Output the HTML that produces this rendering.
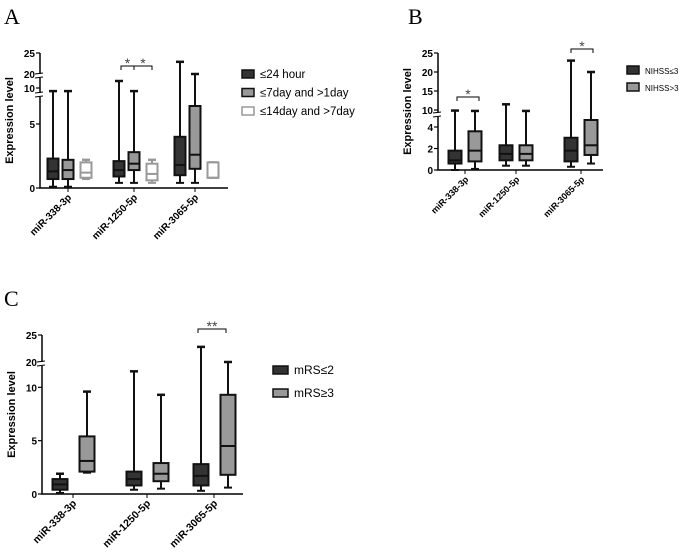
<!DOCTYPE html>
<html><head><meta charset="utf-8">
<style>
body{margin:0;background:#fff;width:685px;height:554px;overflow:hidden}
svg{font-family:"Liberation Sans",sans-serif}
</style></head>
<body>
<svg id="fig" width="685" height="554" viewBox="0 0 685 554" xmlns="http://www.w3.org/2000/svg">
<text x="4" y="24" font-family="Liberation Serif,serif" font-size="22">A</text>
<text x="408" y="24" font-family="Liberation Serif,serif" font-size="22">B</text>
<text x="4" y="306" font-family="Liberation Serif,serif" font-size="22">C</text>
</svg>
<script>
const categories = ["miR-338-3p","miR-1250-5p","miR-3065-5p"];
// each stat: [min, q1, median, q3, max]
const aSeries1 = [[0.1,0.7,1.3,2.3,9],[0.4,0.9,1.4,2.1,15],[0.4,1.0,1.8,4.0,22.9]];
const aSeries2 = [[0.1,0.7,1.4,2.2,9],[0.4,1.4,1.9,2.8,9],[0.4,1.5,2.6,6.4,20]];
const aSeries3 = [[0.7,0.8,1.2,2.0,2.2],[0.4,0.6,1.1,1.9,2.2],[0.8,0.8,0.8,2.0,2.0]];
const aNames = ["≤24 hour","≤7day and >1day","≤14day and >7day"];
const aTicks = [0,5,10,20,25];
const bSeries1 = [[0,0.6,0.9,1.8,9.7],[0.4,0.9,1.5,2.3,11.5],[0.3,0.8,1.8,3.0,23]];
const bSeries2 = [[0.1,0.8,1.8,3.6,9.5],[0.4,0.9,1.5,2.3,9.5],[0.6,1.4,2.3,4.7,20]];
const bNames = ["NIHSS≤3","NIHSS>3"];
const bTicks = [0,2,4,10,15,20,25];
const cSeries1 = [[0.1,0.4,0.9,1.4,1.9],[0.4,0.8,1.4,2.1,11.5],[0.3,0.8,1.7,2.8,22.8]];
const cSeries2 = [[2.0,2.1,3.1,5.4,9.6],[0.5,1.2,1.9,2.9,9.3],[0.6,1.8,4.5,9.3,20]];
const cNames = ["mRS≤2","mRS≥3"];
const cTicks = [0,5,10,20,25];

const NS="http://www.w3.org/2000/svg";
const svg=document.getElementById('fig');
function mk(tag,attrs,parent){const e=document.createElementNS(NS,tag);for(const k in attrs)e.setAttribute(k,attrs[k]);(parent||svg).appendChild(e);return e;}
function scaleFn(dom,rng){return v=>{for(let i=0;i<dom.length-1;i++){if(v<=dom[i+1]||i===dom.length-2){const t=(v-dom[i])/(dom[i+1]-dom[i]);return rng[i]+t*(rng[i+1]-rng[i]);}}};}

function panel(cfg){
  const g=mk('g',{});
  
  
  const y=scaleFn(cfg.dom,cfg.rng);
  const x0=cfg.axisX, y0=y(0);
  const ax=mk('path',{d:`M${x0},${y(cfg.ticks[cfg.ticks.length-1])}V${y0}H${cfg.axisEnd}`,stroke:'#000','stroke-width':1.5,fill:'none'},g);
  
  
  cfg.ticks.forEach(t=>{
    mk('line',{x1:x0-4,x2:x0,y1:y(t),y2:y(t),stroke:'#000','stroke-width':1.2},g);
    const tx=mk('text',{x:x0-5,y:y(t)+4,'text-anchor':'end','font-size':10,'font-weight':'bold'},g);
    tx.textContent=t;
    
    
  });
  cfg.breaks.forEach(b=>{
    mk('rect',{x:x0-5,y:b-2,width:10,height:4,fill:'#fff'},g);
    mk('line',{x1:x0-5,x2:x0+3,y1:b-2,y2:b-3,stroke:'#000'},g);
    mk('line',{x1:x0-5,x2:x0+3,y1:b+2,y2:b+1,stroke:'#000'},g);
  });
  const yl=mk('text',{transform:`translate(${x0-27},${(y0+y(cfg.ticks[cfg.ticks.length-1]))/2}) rotate(-90)`,'text-anchor':'middle','font-size':11,'font-weight':'bold'},g);
  yl.textContent='Expression level';
  
  
  categories.forEach((c,i)=>{
    const cx=cfg.groupX[i];
    mk('line',{x1:cx,x2:cx,y1:y0,y2:y0+4,stroke:'#000'},g);
    const t=mk('text',{transform:`translate(${cx+4},${y0+10}) rotate(-45)`,'text-anchor':'end','font-size':cfg.xFs,'font-weight':'bold'},g);
    t.textContent=c;
    
    
    cfg.series.forEach((s,j)=>{
      const d=s[i], bx=cx+cfg.offs[j], w=cfg.bw, st=cfg.strokes[j], fl=cfg.fills[j];
      const bg=mk('g',{},g);
      
      
      mk('line',{x1:bx,x2:bx,y1:y(d[0]),y2:y(d[4]),stroke:st,'stroke-width':2},bg);
      mk('line',{x1:bx-4,x2:bx+4,y1:y(d[0]),y2:y(d[0]),stroke:st,'stroke-width':2},bg);
      mk('line',{x1:bx-4,x2:bx+4,y1:y(d[4]),y2:y(d[4]),stroke:st,'stroke-width':2.5},bg);
      mk('rect',{x:bx-w/2,y:y(d[3]),width:w,height:y(d[1])-y(d[3]),fill:fl,stroke:st,'stroke-width':2},bg);
      mk('line',{x1:bx-w/2,x2:bx+w/2,y1:y(d[2]),y2:y(d[2]),stroke:st,'stroke-width':2},bg);
    });
  });
  cfg.sig.forEach(s=>{
    const p=mk('path',{d:`M${s[0]},${s[2]+4}V${s[2]}H${s[1]}V${s[2]+4}`,stroke:'#000',fill:'none','stroke-width':1},g);
    
    
    const t=mk('text',{x:(s[0]+s[1])/2,y:s[2]+2,'text-anchor':'middle','font-size':14,fill:'#444'},g);
    t.textContent=s[3];
    
    
  });
  cfg.names.forEach((n,j)=>{
    const ly=cfg.legY+j*cfg.legDy;
    const lg=mk('g',{},g);
    
    
    mk('rect',{x:cfg.legX,y:ly-4,width:cfg.legW,height:8,fill:cfg.fills[j],stroke:cfg.strokes[j],'stroke-width':1.5},lg);
    const t=mk('text',{x:cfg.legX+cfg.legW+6,y:ly+4,'font-size':cfg.legFs},lg);
    t.textContent=n;
  });
}
panel({name:'panel-a-chart',dom:[0,5,7.1,10,20,25],rng:[188,124,97,88,74,53],ticks:aTicks,breaks:[95,76],
  axisX:40,axisEnd:228,groupX:[68,134,195],offs:[-15,0,18],bw:11,series:[aSeries1,aSeries2,aSeries3],
  strokes:['#111','#111','#999'],fills:['#333','#999','#fff'],names:aNames,xFs:10,
  sig:[[121,134,66,'*'],[134,152,66,'*']],legX:242,legY:74,legDy:18.5,legW:12,legFs:11.5});
panel({name:'panel-b-chart',dom:[0,4,4.7,10,25],rng:[170,127,120,110,53],ticks:bTicks,breaks:[115],
  axisX:438,axisEnd:603,groupX:[465,516,581],offs:[-10,10],bw:13,series:[bSeries1,bSeries2],
  strokes:['#111','#111'],fills:['#333','#999'],names:bNames,xFs:9,
  sig:[[457,479,97,'*'],[571,593,49,'*']],legX:627,legY:70,legDy:17,legW:12,legFs:8});
panel({name:'panel-c-chart',dom:[0,12,20,25],rng:[494,366,362,335],ticks:cTicks,breaks:[364],
  axisX:42,axisEnd:243,groupX:[73,147,214],offs:[-13,14],bw:15,series:[cSeries1,cSeries2],
  strokes:['#111','#111'],fills:['#333','#999'],names:cNames,xFs:10.5,
  sig:[[198,226,329,'**']],legX:273,legY:370,legDy:23,legW:15,legFs:12});
</script>
</body></html>
